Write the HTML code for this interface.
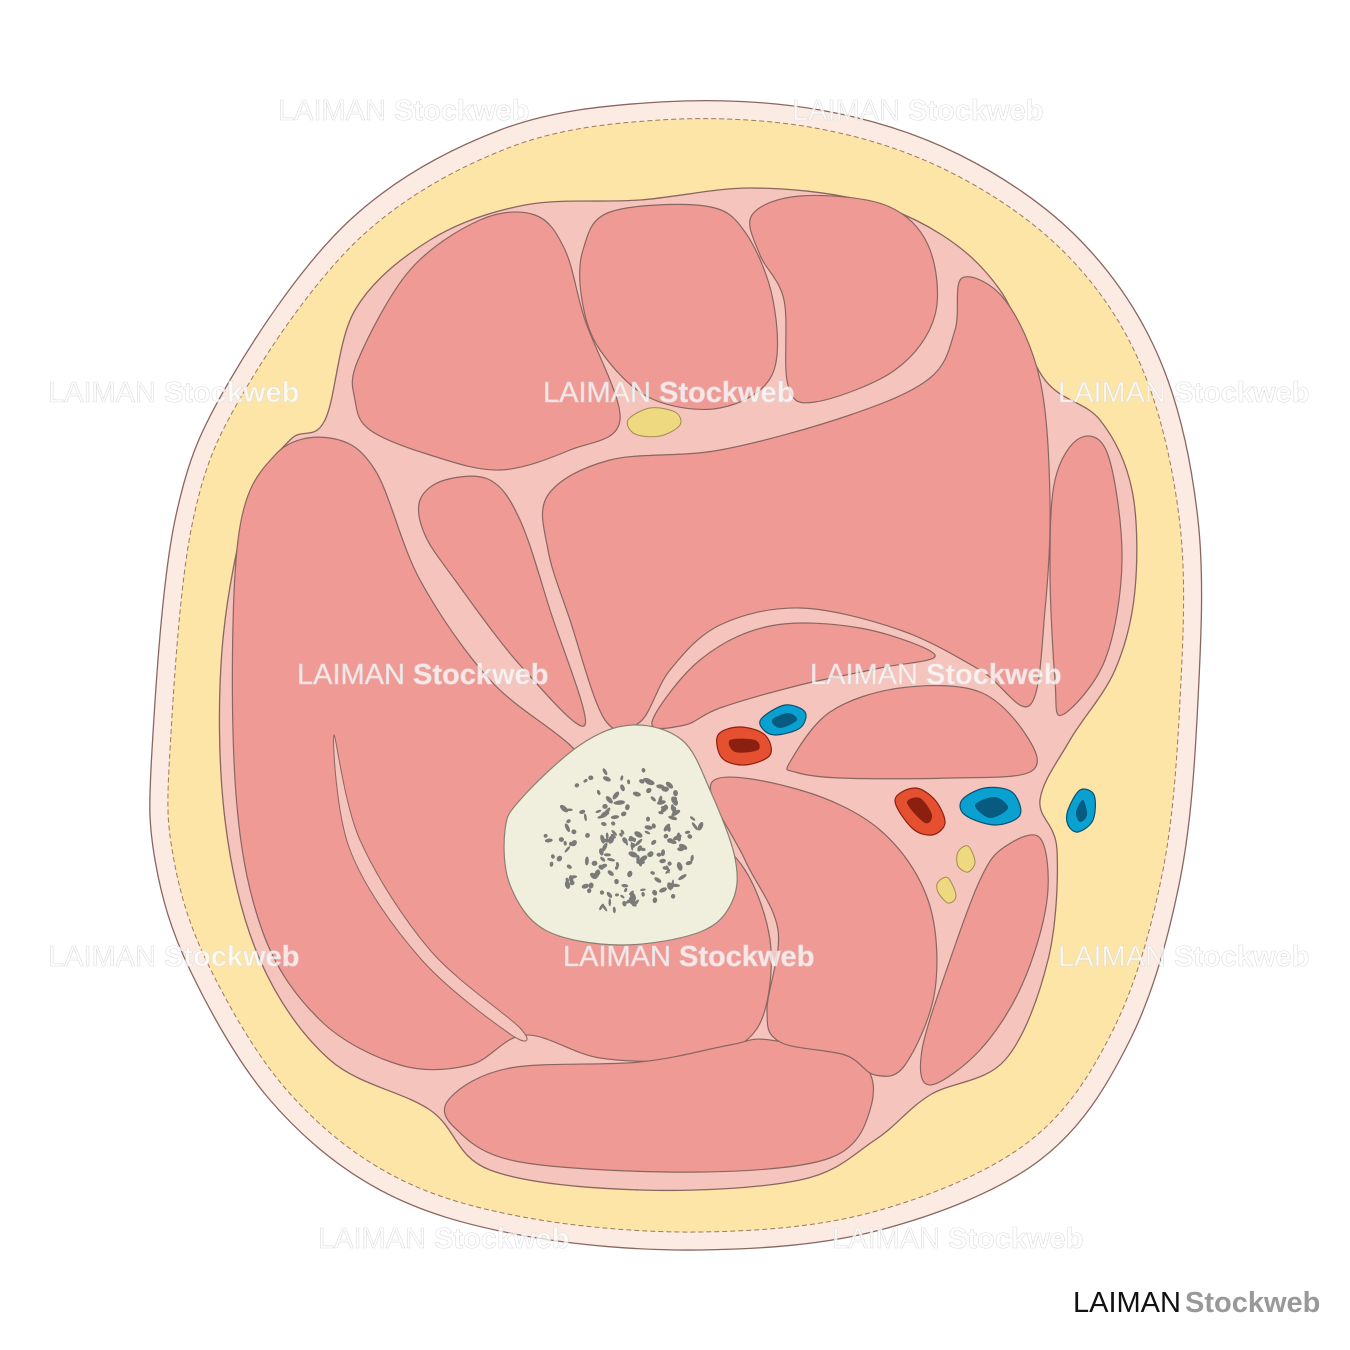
<!DOCTYPE html>
<html><head><meta charset="utf-8"><style>
html,body{margin:0;padding:0;background:#fff;width:1350px;height:1350px;overflow:hidden}
svg{display:block}
.wm{font-family:"Liberation Sans",sans-serif;font-size:29px;fill:#fff;fill-opacity:.75;stroke:#ddd;stroke-width:.6}
</style></head><body>
<svg id="s" width="1350" height="1350" viewBox="0 0 1350 1350" xmlns="http://www.w3.org/2000/svg">
<g id="g"></g>
<g id="txt">
<text class="wm" x="278" y="120">LAIMAN <tspan font-weight="bold">Stockweb</tspan></text>
<text class="wm" x="792" y="120">LAIMAN <tspan font-weight="bold">Stockweb</tspan></text>
<text class="wm" x="48" y="402">LAIMAN <tspan font-weight="bold">Stockweb</tspan></text>
<text class="wm" x="543" y="402">LAIMAN <tspan font-weight="bold">Stockweb</tspan></text>
<text class="wm" x="1058" y="402">LAIMAN <tspan font-weight="bold">Stockweb</tspan></text>
<text class="wm" x="297" y="684">LAIMAN <tspan font-weight="bold">Stockweb</tspan></text>
<text class="wm" x="810" y="684">LAIMAN <tspan font-weight="bold">Stockweb</tspan></text>
<text class="wm" x="48" y="966">LAIMAN <tspan font-weight="bold">Stockweb</tspan></text>
<text class="wm" x="563" y="966">LAIMAN <tspan font-weight="bold">Stockweb</tspan></text>
<text class="wm" x="1058" y="966">LAIMAN <tspan font-weight="bold">Stockweb</tspan></text>
<text class="wm" x="318" y="1248">LAIMAN <tspan font-weight="bold">Stockweb</tspan></text>
<text class="wm" x="832" y="1248">LAIMAN <tspan font-weight="bold">Stockweb</tspan></text>
<text x="1073" y="1312" font-family="Liberation Sans,sans-serif" font-size="29" fill="#111">LAIMAN<tspan fill="#999" font-weight="bold" dx="4">Stockweb</tspan></text>
</g>
</svg>
<script>
var NS="http://www.w3.org/2000/svg",g=document.getElementById("g");
function sm(p){var n=p.length,d="";for(var i=0;i<n;i++){var p0=p[(i-1+n)%n],p1=p[i],p2=p[(i+1)%n],p3=p[(i+2)%n];
if(i==0)d="M"+p1[0]+","+p1[1];
var c1=[p1[0]+(p2[0]-p0[0])/6,p1[1]+(p2[1]-p0[1])/6],c2=[p2[0]-(p3[0]-p1[0])/6,p2[1]-(p3[1]-p1[1])/6];
d+="C"+c1[0].toFixed(1)+","+c1[1].toFixed(1)+" "+c2[0].toFixed(1)+","+c2[1].toFixed(1)+" "+p2[0]+","+p2[1];}return d+"Z";}
function P(pts,fill,stroke,sw,extra){var e=document.createElementNS(NS,"path");e.setAttribute("d",sm(pts));e.setAttribute("fill",fill);
e.setAttribute("stroke",stroke||"none");e.setAttribute("stroke-width",sw||1.2);if(extra)for(var k in extra)e.setAttribute(k,extra[k]);g.appendChild(e);return e;}
var ML="#8a6660",MU="#f09a96",FA="#f5c4bc";
P([[152,750],[175,520],[230,380],[350,220],[500,130],[660,102],[820,110],[960,155],[1080,240],[1160,360],[1198,520],[1198,700],[1180,880],[1130,1040],[1040,1160],[880,1230],[700,1250],[520,1235],[380,1190],[270,1100],[190,970],[155,860]],"#fcebe3",ML,1.3);
P([[170,750],[192,525],[245,390],[362,236],[508,148],[660,120],[815,128],[950,172],[1066,254],[1142,368],[1180,525],[1180,700],[1162,875],[1113,1030],[1027,1143],[873,1212],[700,1232],[523,1217],[390,1174],[285,1088],[207,962],[173,855]],"#fde5a8","#9a7a60",1,{"stroke-dasharray":"5,3"});
P([[325,420],[355,310],[430,240],[525,205],[640,200],[750,188],[860,200],[942,235],[1000,290],[1045,380],[1100,420],[1132,490],[1135,590],[1115,670],[1070,740],[1040,800],[1057,850],[1048,960],[1005,1060],[930,1095],[875,1140],[800,1180],[640,1190],[490,1170],[430,1110],[330,1060],[260,960],[225,820],[222,650],[250,500],[290,440]],FA,ML,1.3);
P([[358,360],[410,270],[480,220],[535,215],[565,250],[585,320],[620,420],[570,450],[500,470],[430,455],[370,430],[355,400]],MU,ML);
P([[583,250],[610,212],[705,206],[745,232],[773,300],[772,375],[720,408],[650,398],[600,350],[582,300]],MU,ML);
P([[752,215],[800,196],[885,205],[928,245],[935,315],[895,370],[815,402],[788,385],[784,300],[760,255]],MU,ML);
P([[548,495],[610,460],[720,450],[850,415],[930,378],[955,330],[962,278],[1005,300],[1040,380],[1050,500],[1045,610],[1030,705],[980,670],[900,630],[800,608],[720,625],[670,670],[640,722],[605,720],[570,620],[548,550]],MU,ML);
P([[1055,480],[1080,438],[1108,455],[1122,560],[1105,660],[1062,715],[1055,680],[1050,570]],MU,ML);
P([[420,500],[445,480],[490,480],[520,520],[550,610],[585,725],[520,665],[455,580],[425,535]],MU,ML);
// big left muscle including region under bone
P([[238,540],[275,455],[330,438],[375,470],[420,580],[490,680],[570,745],[620,800],[700,830],[745,870],[770,940],[765,1010],[740,1045],[690,1060],[600,1058],[525,1035],[470,1065],[400,1065],[320,1020],[262,930],[235,780]],MU,ML);
P([[334,735],[360,840],[430,950],[520,1028],[510,1034],[420,958],[350,850]],FA,ML,1);
P([[450,1098],[510,1068],[640,1062],[730,1045],[770,1040],[860,1062],[870,1110],[830,1158],[700,1172],[520,1162],[455,1128]],MU,ML);
P([[712,782],[800,790],[880,830],[928,900],[935,990],[905,1065],[875,1075],[845,1055],[780,1042],[767,1010],[778,930],[745,860]],MU,ML);
P([[1003,848],[1040,838],[1047,900],[1022,985],[980,1050],[930,1085],[922,1050],[950,960],[980,880]],MU,ML);
P([[652,722],[700,660],[770,626],[860,628],[935,655],[880,668],[800,685],[720,708],[685,725]],MU,ML);
P([[790,762],[830,712],[900,688],[980,692],[1028,738],[1030,772],[950,778],[840,778],[795,772]],MU,ML);
P([[628,420],[650,408],[675,412],[680,425],[660,436],[635,434]],"#eed880","#a08c50",1);
P([[958,852],[968,846],[975,862],[968,872],[958,866]],"#eed880","#a08c50",1);
P([[938,882],[948,878],[956,896],[948,903],[938,892]],"#eed880","#a08c50",1);
P([[520,800],[580,745],[632,725],[682,740],[710,790],[735,858],[732,902],[700,932],[620,945],[545,930],[510,885],[505,830]],"#f0eedc","#8a8070",1.2);
P([[718,735],[740,727],[765,735],[770,755],[745,765],[722,758]],"#e55030","#8b2010",1.2);
P([[730,740],[755,740],[758,750],[735,752]],"#8b2010");
P([[762,718],[785,705],[805,712],[800,728],[775,735],[762,728]],"#0aa0d0","#085070",1.2);
P([[772,720],[788,713],[797,720],[780,728]],"#075a80");
P([[895,800],[915,788],[935,800],[945,823],[932,835],[912,828]],"#e55030","#8b2010",1.2);
P([[907,803],[920,798],[932,815],[925,823]],"#8b2010");
P([[962,800],[985,788],[1012,792],[1020,815],[995,825],[965,815]],"#0aa0d0","#085070",1.2);
P([[975,805],[995,797],[1008,808],[990,818]],"#075a80");
P([[1068,810],[1080,790],[1094,795],[1093,820],[1078,832],[1068,825]],"#0aa0d0","#085070",1.2);
P([[1076,812],[1083,800],[1087,815],[1080,822]],"#075a80");
var seed=7;function r(){seed=(seed*9301+49297)%233280;return seed/233280;}
for(var i=0;i<180;i++){var a=r()*6.283,rad=Math.sqrt(r());var cx=625+Math.cos(a)*rad*80,cy=840+Math.sin(a)*rad*72;
var e=document.createElementNS(NS,"ellipse");e.setAttribute("cx",cx.toFixed(1));e.setAttribute("cy",cy.toFixed(1));
e.setAttribute("rx",(2+r()*3).toFixed(1));e.setAttribute("ry",(1.2+r()*1.5).toFixed(1));e.setAttribute("fill","#7a7a78");
e.setAttribute("transform","rotate("+(r()*180).toFixed(0)+" "+cx.toFixed(1)+" "+cy.toFixed(1)+")");g.appendChild(e);}
</script>
</body></html>
